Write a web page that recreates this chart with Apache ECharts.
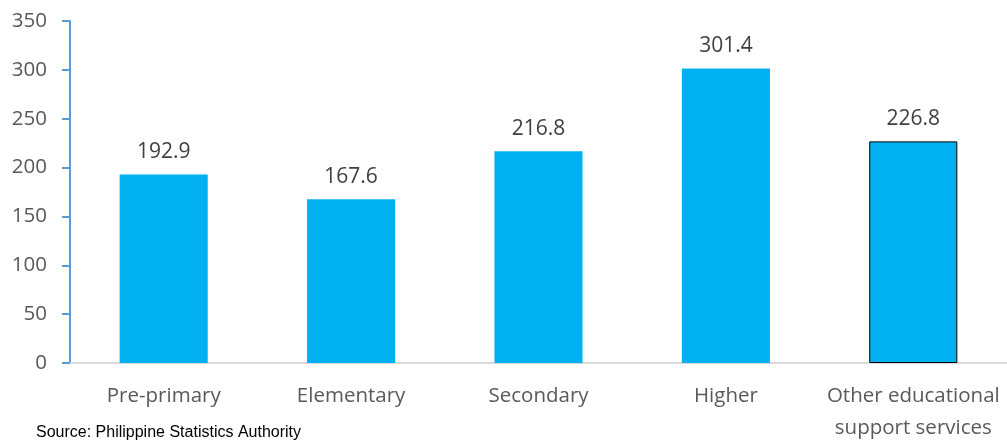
<!DOCTYPE html>
<html><head><meta charset="utf-8">
<script src="https://cdn.jsdelivr.net/npm/echarts@6/dist/echarts.min.js"></script>
<style>html,body{margin:0;padding:0;background:#fff}#c{width:1007px;height:444px}</style>
</head><body><div id="c"></div>
<script>
const categories = ['Pre-primary','Elementary','Secondary','Higher','Other educational\nsupport services'];
const values = [192.9,167.6,216.8,301.4,226.8];
const yTicks = {min:0,max:350,interval:50};
const sourceText = 'Source: Philippine Statistics Authority';

const chart = echarts.init(document.getElementById('c'));
const font = '"Open Sans", sans-serif';
chart.setOption({
  animation:false,
  grid:{left:70,right:0,top:21,bottom:80,containLabel:false},
  xAxis:{type:'category',data:categories,
    axisLine:{lineStyle:{color:'#d9d9d9',width:2}},
    axisTick:{show:false},
    axisLabel:{color:'#595959',fontSize:20.5,fontFamily:font,margin:17,lineHeight:32,interval:0}},
  yAxis:{type:'value',min:yTicks.min,max:yTicks.max,interval:yTicks.interval,
    axisLine:{show:true,lineStyle:{color:'#5b9bd5',width:2}},
    axisTick:{show:true,length:8,lineStyle:{color:'#5b9bd5',width:2}},
    splitLine:{show:false},
    axisLabel:{color:'#595959',fontSize:20.5,fontFamily:font,margin:23}},
  graphic:[{type:'text',left:36,top:425,style:{text:sourceText,fill:'#000',font:'16px "Liberation Sans", Arial, sans-serif'}}],
  series:[{type:'bar',barWidth:'47%',
    data:values.map((v,i)=>({value:v,itemStyle:i===values.length-1?{borderColor:'#000',borderWidth:1}:{}})),
    itemStyle:{color:'#00b0f0'},
    label:{show:true,position:'top',distance:12,color:'#404040',fontSize:21,fontFamily:font,formatter:p=>p.value.toFixed(1)}}]
});
</script></body></html>
